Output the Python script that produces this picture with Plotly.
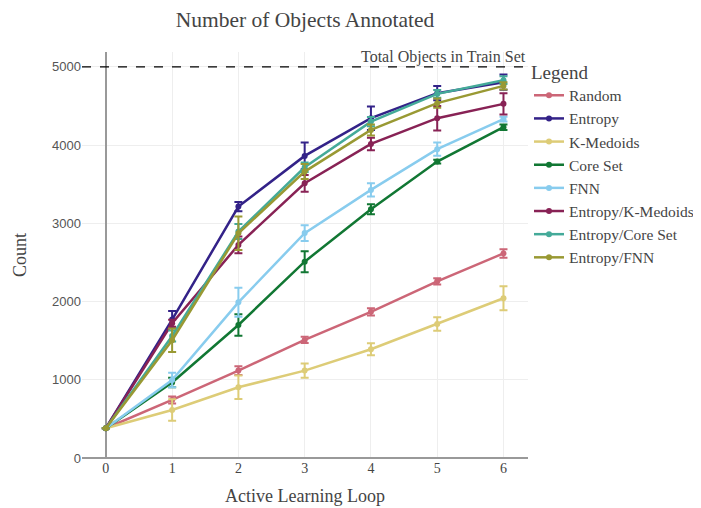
import plotly.graph_objects as go

loops = [0, 1, 2, 3, 4, 5, 6]
series_names = ["Random", "Entropy", "K-Medoids", "Core Set", "FNN",
                "Entropy/K-Medoids", "Entropy/Core Set", "Entropy/FNN"]
colors = ["#CC6677", "#332288", "#DDCC77", "#117733", "#88CCEE",
          "#882255", "#44AA99", "#999933"]

random_mean = [380, 742, 1117, 1509, 1868, 2258, 2615]
random_err = [0, 45, 55, 40, 45, 40, 55]
entropy_mean = [380, 1770, 3214, 3862, 4344, 4664, 4804]
entropy_err = [0, 110, 60, 170, 150, 90, 98]
kmedoids_mean = [380, 614, 904, 1117, 1390, 1713, 2042]
kmedoids_err = [0, 137, 150, 92, 77, 85, 153]
coreset_mean = [380, 965, 1700, 2510, 3180, 3789, 4229]
coreset_err = [0, 60, 137, 134, 64, 25, 35]
fnn_mean = [380, 997, 1990, 2875, 3427, 3948, 4331]
fnn_err = [0, 93, 185, 100, 85, 85, 30]
ent_kmed_mean = [380, 1722, 2724, 3512, 4015, 4344, 4527]
ent_kmed_err = [0, 45, 107, 107, 80, 156, 137]
ent_core_mean = [380, 1560, 2894, 3717, 4300, 4655, 4830]
ent_core_err = [0, 70, 96, 60, 60, 50, 50]
ent_fnn_mean = [380, 1505, 2873, 3661, 4194, 4536, 4757]
ent_fnn_err = [0, 150, 213, 96, 70, 60, 45]

means = [random_mean, entropy_mean, kmedoids_mean, coreset_mean, fnn_mean,
         ent_kmed_mean, ent_core_mean, ent_fnn_mean]
errs = [random_err, entropy_err, kmedoids_err, coreset_err, fnn_err,
        ent_kmed_err, ent_core_err, ent_fnn_err]

total_objects = 5000

FONT = "Liberation Serif"
SANS = "Liberation Sans"

W, H = 693, 500  # page has an 8px body margin

fig = go.Figure()
for name, c, m, e in zip(series_names, colors, means, errs):
    fig.add_trace(go.Scatter(
        x=loops, y=m, name=name, mode="lines+markers",
        line=dict(color=c, width=2.5),
        marker=dict(color=c, size=6),
        error_y=dict(type="data", array=e, visible=True, color=c,
                     thickness=2, width=4),
    ))

fig.add_shape(type="line", xref="paper", x0=0, x1=1, yref="y",
              y0=total_objects, y1=total_objects,
              line=dict(color="black", width=1.2, dash="dash"))
fig.add_annotation(text="Total Objects in Train Set", xref="paper", x=1,
                   xanchor="right", yref="y", y=total_objects, yanchor="bottom",
                   showarrow=False, yshift=-1,
                   font=dict(family=FONT, size=16, color="#444"))

fig.update_layout(
    width=W, height=H,
    paper_bgcolor="white", plot_bgcolor="white",
    margin=dict(l=74, r=173, t=44, b=50, autoexpand=False),
    font=dict(family=FONT, size=14, color="#444"),
    title=dict(text="Number of Objects Annotated", xref="paper", x=0.5,
               xanchor="center", yref="container", y=1 - 11 / H,
               yanchor="middle",
               font=dict(family=FONT, size=21.5, color="#444")),
    legend=dict(title=dict(text="Legend", font=dict(size=19)),
                xref="container", x=521 / W, xanchor="left",
                yref="container", y=1 - 46 / H, yanchor="top",
                font=dict(family=FONT, size=15.5), tracegroupgap=0,
                itemwidth=30),
    showlegend=True,
)
fig.update_xaxes(
    title=dict(text="Active Learning Loop", font=dict(size=18), standoff=14),
    range=[-0.36, 6.37], tickvals=loops, ticks="", showgrid=True,
    gridcolor="#eeeeee", zeroline=True, zerolinecolor="#999999",
    zerolinewidth=1.5, showline=False, automargin=False,
    tickfont=dict(family=FONT, size=14, color="#444"),
)
fig.update_yaxes(
    title=dict(text="Count", font=dict(size=18), standoff=20),
    range=[0, 5190], tickvals=[0, 1000, 2000, 3000, 4000, 5000],
    ticks="", showgrid=True, gridcolor="#eeeeee",
    zeroline=True, zerolinecolor="#999999", zerolinewidth=1.5, showline=False,
    automargin=False,
    tickfont=dict(family=SANS, size=13, color="#555"),
)

fig.write_html("out.html")
